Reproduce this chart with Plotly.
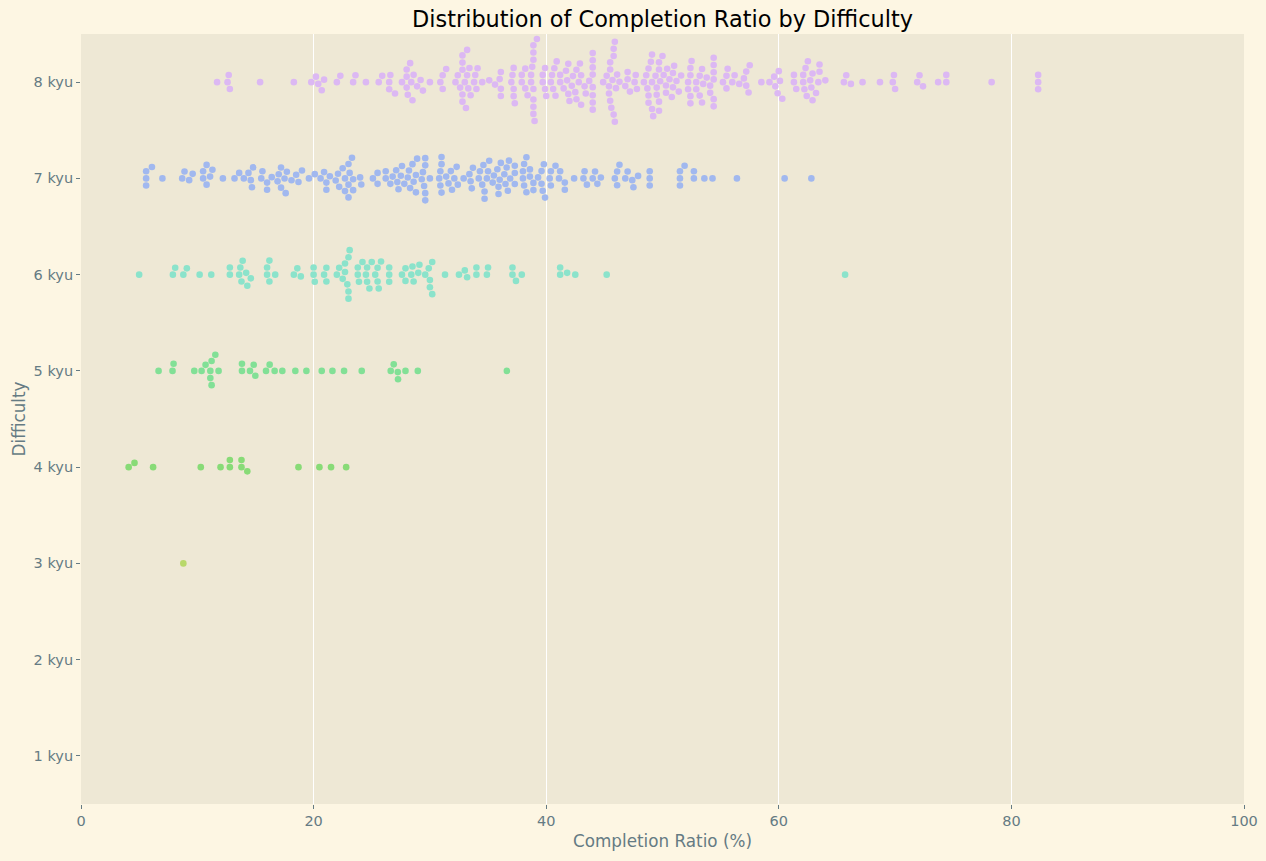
#!/usr/bin/env python3
"""
Swarm plot: distribution of completion ratio by kata difficulty.
"""

import math
import plotly.graph_objects as go

# --- Данные (оценки по картинке), completion ratio в процентах ---
kyu8 = [11.7, 12.6, 12.7, 12.8, 15.4, 18.3, 19.8, 20.2, 20.4, 20.7, 20.9, 22.0, 22.3, 23.4, 23.6,
        24.5, 25.6, 25.9, 26.5, 26.5, 26.6, 27.0, 27.6, 28.0, 28.1, 28.3, 28.0, 28.0, 28.4, 28.5,
        28.6, 28.9, 29.2, 29.4, 30.0, 30.9, 31.1, 31.4, 31.1, 32.2, 32.4, 32.8, 32.8, 32.6, 32.8,
        33.1, 33.2, 33.4, 33.5, 33.8, 34.0, 33.9, 32.8, 32.8, 33.0, 33.3, 33.2, 34.1, 34.5, 35.1,
        35.6, 36.0, 36.1, 36.1, 36.1, 37.0, 37.1, 37.2, 37.2, 37.2, 37.3, 37.9, 37.9, 38.2, 38.2,
        38.4, 38.7, 38.9, 38.9, 38.9, 38.9, 38.7, 38.8, 38.9, 38.9, 38.9, 39.0, 39.2, 39.7, 39.7,
        39.9, 39.9, 40.0, 40.4, 40.5, 40.6, 40.7, 40.8, 40.9, 41.2, 41.2, 41.5, 41.7, 41.8, 41.9,
        41.9, 42.0, 42.3, 42.2, 42.5, 42.6, 42.6, 42.8, 43.0, 43.0, 42.9, 43.3, 43.4, 43.7,
        44.0, 44.0, 44.0, 44.0, 44.0, 44.0, 44.0, 44.0, 44.9, 45.2, 45.4, 45.5, 45.4, 45.5, 45.5,
        45.7, 45.6, 45.8, 45.9, 46.0, 46.1, 45.8, 45.8, 45.9, 46.3, 46.8, 47.0, 47.2, 47.0, 47.7,
        47.6, 47.8, 48.4, 48.6, 48.8, 49.1, 49.1, 48.7, 48.8, 48.8, 49.1, 49.0, 49.2, 49.5, 49.7,
        49.7, 49.7, 49.4, 49.5, 49.7, 49.8, 50.0, 50.3, 50.3, 50.1, 50.4, 50.6, 51.0, 50.8, 50.9,
        50.9, 51.2, 51.4, 51.6, 52.2, 52.4, 52.4, 52.2, 52.4, 52.4, 52.5, 52.9, 53.2, 53.4, 53.4,
        52.9, 53.2, 53.5, 53.8, 54.1, 54.4, 54.4, 54.1, 54.4, 54.4, 54.4, 54.4, 55.2, 55.5, 55.6,
        55.5, 56.0, 56.2, 56.6, 57.0, 57.2, 57.2, 57.4, 57.5, 58.5, 59.2, 59.6, 59.7, 59.9, 60.0,
        60.1, 60.3, 61.3, 61.3, 61.5, 62.1, 62.1, 62.2, 62.3, 62.4, 62.7, 62.5, 62.9, 62.8, 62.9,
        63.2, 63.4, 63.5, 63.5, 64.0, 65.6, 65.8, 66.2, 67.2, 68.7, 69.8, 69.9, 70.0, 71.9, 72.1,
        72.4, 73.7, 74.4, 74.4, 78.3, 82.3, 82.3, 82.3]

kyu7 = [5.6, 5.6, 5.6, 6.1, 7.0, 8.9, 8.7, 9.3, 9.6, 10.5, 10.8, 10.5, 11.1, 10.8, 11.3, 12.2,
        13.2, 13.6, 14.0, 14.4, 14.8, 14.6, 14.7, 15.6, 15.5, 16.0, 16.0, 16.4, 16.9, 17.0, 17.2,
        17.6, 17.5, 17.2, 17.7, 18.1, 18.5, 18.7, 19.0, 19.6, 20.1, 20.6, 21.1, 21.1, 20.9, 21.4,
        21.9, 22.1, 22.2, 22.5, 22.7, 22.7, 23.0, 23.1, 23.0, 23.0, 23.4, 23.4, 23.3, 24.0, 24.1,
        25.1, 25.5, 25.5, 26.2, 26.2, 26.6, 26.8, 27.1, 27.3, 27.2, 27.6, 27.5, 27.8, 28.1, 28.2,
        28.3, 28.5, 28.6, 28.8, 28.9, 28.8, 29.3, 29.4, 29.6, 29.6, 29.5, 29.6, 29.6, 30.0,
        30.8, 30.9, 31.0, 30.9, 31.0, 31.0, 31.4, 31.6, 31.8, 31.9, 32.1, 32.4, 32.3, 32.9, 33.4,
        33.6, 33.7, 33.5, 34.2, 34.3, 34.6, 34.7, 34.5, 34.7, 34.9, 35.0, 35.1, 35.4, 35.5, 35.9,
        36.0, 35.8, 35.9, 36.1, 36.4, 36.5, 36.6, 36.8, 36.7, 36.9, 37.3, 37.3, 37.3, 38.0, 38.0,
        38.1, 38.1, 38.3, 38.3, 38.6, 38.6, 38.9, 38.9, 39.3, 39.6, 39.6, 39.7, 39.8, 39.9,
        40.4, 40.3, 40.4, 40.8, 41.2, 41.1, 41.6, 41.6, 42.4, 43.3, 43.2, 43.5, 44.0, 44.4, 44.2,
        44.7, 45.9, 46.1, 46.1, 46.3, 46.8, 47.0, 47.4, 47.5, 47.9, 48.9, 48.9, 48.9, 51.5, 51.5,
        51.5, 51.9, 52.7, 52.7, 53.6, 54.3, 56.4, 60.5, 62.8]

kyu6 = [5.0, 8.1, 7.9, 9.1, 8.8, 10.2, 11.2, 12.8, 12.8, 13.6, 13.7, 14.2, 14.6, 13.8, 14.3, 13.9,
        16.0, 16.0, 16.7, 16.2, 16.2, 18.6, 18.3, 18.9, 20.0, 20.0, 21.1, 20.9, 20.1, 21.1, 22.2,
        22.0, 22.7, 23.0, 22.9, 22.5, 22.7, 23.1, 23.0, 23.0, 23.9, 23.8, 24.2, 24.6, 24.5, 23.8,
        24.6, 25.0, 24.8, 25.5, 25.3, 25.8, 25.5, 25.6, 26.5, 26.5, 26.5, 27.6, 27.9, 27.9, 28.4,
        28.5, 28.6, 29.1, 29.0, 29.6, 29.9, 30.2, 30.0, 30.0, 30.2, 31.3, 32.5, 33.0, 33.2, 34.0,
        34.0, 35.0, 34.9, 37.1, 37.1, 37.4, 37.9, 41.2, 41.2, 41.8, 42.5, 45.2, 65.7]

kyu5 = [6.67, 7.96, 7.87, 9.74, 10.37, 10.71, 11.12, 11.23, 11.55, 11.12, 11.23, 11.83, 13.84,
        13.84, 14.53, 14.85, 14.99, 15.91, 16.22, 16.65, 17.31, 18.43, 19.38, 20.70, 21.62, 22.62,
        24.14, 26.63, 26.89, 27.24, 27.26, 27.90, 28.96, 36.62]

kyu4 = [4.1, 4.6, 6.2, 10.3, 12.0, 12.8, 12.8, 13.8, 13.8, 14.3, 18.7, 20.5, 21.5, 22.8]

kyu3 = [8.8]

levels = [8, 7, 6, 5, 4, 3]
series = [kyu8, kyu7, kyu6, kyu5, kyu4, kyu3]
colors = ["#dcb8f3", "#a1b8ef", "#8be3cb", "#82e096", "#88db77", "#b8d86a"]
tick_labels = [f"{k} kyu" for k in range(1, 9)]

# геометрия области построения (px)
W, H = 1266, 861
M_L, M_R, M_T, M_B = 81, 22, 34, 57
PX_X = (W - M_L - M_R) / 100.0   # px на 1% по x
PX_Y = (H - M_T - M_B) / 8.0     # px на одну категорию
DOT = 7.2                        # шаг укладки точек (px)


def swarm_offsets(values):
    """Простой beeswarm: точки по возрастанию, каждая — ближе всего к центру без перекрытия."""
    order = sorted(range(len(values)), key=lambda i: values[i])
    placed = []
    offsets = [0.0] * len(values)
    for i in order:
        x = values[i] * PX_X
        near = [(px, py) for px, py in placed if abs(px - x) < DOT]
        cands = [0.0]
        for px, py in near:
            dy = math.sqrt(DOT ** 2 - (x - px) ** 2)
            cands += [py + dy, py - dy]
        cands.sort(key=abs)
        for c in cands:
            if all((x - px) ** 2 + (c - py) ** 2 >= DOT ** 2 - 1e-6 for px, py in near):
                break
        placed.append((x, c))
        offsets[i] = c / PX_Y
    return offsets


fig = go.Figure()
for lvl, vals, col in zip(levels, series, colors):
    offs = swarm_offsets(vals)
    fig.add_trace(go.Scatter(
        x=vals,
        y=[lvl + o for o in offs],
        mode="markers",
        marker=dict(size=6.6, color=col, line=dict(width=0)),
        name=f"{lvl} kyu",
        showlegend=False,
    ))

fig.update_layout(
    width=W, height=H,
    margin=dict(l=M_L, r=M_R, t=M_T, b=M_B, autoexpand=False),
    paper_bgcolor="#fdf6e3",
    plot_bgcolor="#eee8d5",
    font=dict(family="DejaVu Sans", color="#657b83", size=14),
    title=dict(
        text="Distribution of Completion Ratio by Difficulty",
        x=0.5, xref="paper", xanchor="center", y=1 - 19 / H, yanchor="middle", yref="container",
        font=dict(size=22.4, color="#000000"),
    ),
    xaxis=dict(
        range=[0, 100], tickvals=[0, 20, 40, 60, 80, 100],
        showgrid=True, gridcolor="#ffffff", gridwidth=1,
        zeroline=False, showline=False, automargin=False,
        ticks="outside", ticklen=4, tickcolor="#657b83",
        tickfont=dict(size=14.5, color="#657b83"),
        title=dict(text="Completion Ratio (%)", font=dict(size=16.8, color="#657b83"), standoff=6),
    ),
    yaxis=dict(
        range=[0.5, 8.5], tickvals=list(range(1, 9)), ticktext=tick_labels,
        showgrid=False, zeroline=False, showline=False, automargin=False,
        ticks="outside", ticklen=4, tickcolor="#657b83",
        tickfont=dict(size=14.5, color="#657b83"),
        title=dict(text="Difficulty", font=dict(size=16.8, color="#657b83"), standoff=3),
    ),
)

# убираем отступы страницы, чтобы фигура легла ровно в окно
fig.write_html("out.html", config={"displayModeBar": False},
               post_script="document.body.style.margin='0';")
